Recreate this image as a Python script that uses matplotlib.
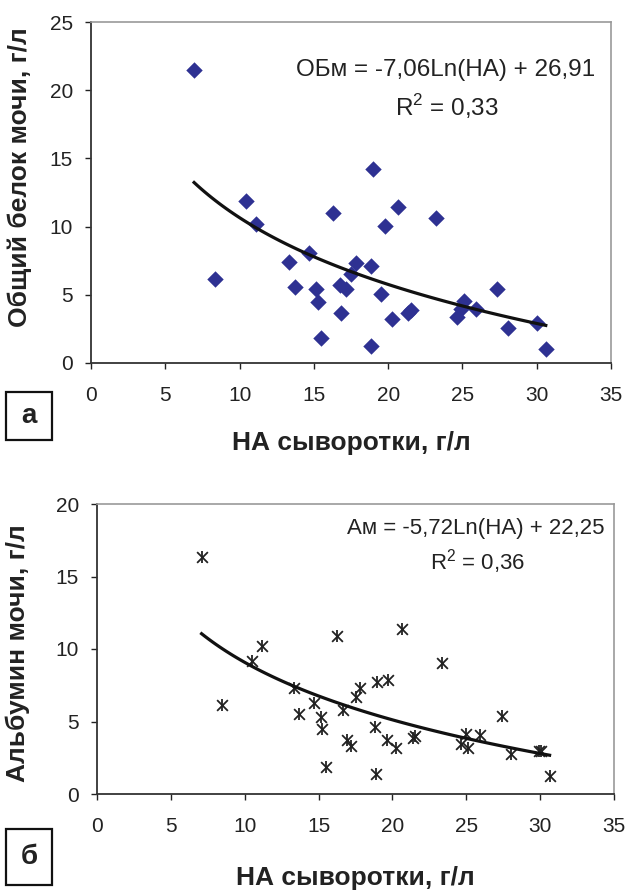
import numpy as np
import matplotlib
matplotlib.use("Agg")
import matplotlib.pyplot as plt
from matplotlib.patches import Rectangle

plt.rcParams["font.family"] = ["Liberation Sans", "DejaVu Sans"]

# panel a: total urine protein vs serum NA
protein_x = [6.94, 8.35, 10.45, 11.08, 13.31, 13.72, 14.70, 15.13, 15.29, 15.45,
             16.27, 16.73, 16.84, 17.18, 17.52, 17.86, 18.82, 18.96, 18.82, 19.55,
             19.82, 20.28, 20.66, 21.37, 21.57, 23.21, 24.65, 24.92, 25.08, 25.90,
             27.33, 28.04, 30.02, 30.61]
protein_y = [21.47, 6.17, 11.88, 10.19, 7.39, 5.56, 8.03, 5.41, 4.46, 1.84,
             10.97, 5.71, 3.67, 5.39, 6.56, 7.30, 7.10, 14.20, 1.22, 5.09,
             10.01, 3.23, 11.41, 3.70, 3.87, 10.63, 3.38, 3.99, 4.53, 3.97,
             5.41, 2.60, 2.94, 1.05]
protein_fit = (-7.06, 26.91)

# panel b: urine albumin vs serum NA
albumin_x = [7.08, 8.49, 10.50, 11.16, 13.36, 13.70, 14.70, 15.14, 15.25, 15.50,
             16.28, 16.64, 16.94, 17.19, 17.56, 17.81, 18.84, 18.93, 18.86, 19.63,
             19.73, 20.27, 20.64, 21.39, 21.53, 23.33, 24.61, 24.95, 25.11, 25.91,
             27.42, 28.06, 29.89, 30.09, 30.64]
albumin_y = [16.35, 6.15, 9.17, 10.21, 7.34, 5.50, 6.31, 5.34, 4.47, 1.86,
             10.87, 5.78, 3.72, 3.30, 6.70, 7.34, 4.59, 7.71, 1.38, 3.72,
             7.84, 3.14, 11.40, 3.83, 3.99, 9.06, 3.42, 4.11, 3.14, 4.06,
             5.39, 2.75, 2.94, 2.94, 1.22]
albumin_fit = (-5.72, 22.25)

W, H = 627, 891
fig = plt.figure(figsize=(W / 100, H / 100), dpi=100)


def px_axes(left, top, right, bottom):
    return fig.add_axes([left / W, 1 - bottom / H, (right - left) / W, (bottom - top) / H])


def style_axes(ax, ymax, ystep):
    ax.set_xlim(0, 35)
    ax.set_ylim(0, ymax)
    ax.set_xticks(np.arange(0, 36, 5))
    ax.set_yticks(np.arange(0, ymax + 1, ystep))
    for side in ("left", "bottom"):
        ax.spines[side].set_color("#333333")
        ax.spines[side].set_linewidth(1.3)
    for side in ("top", "right"):
        ax.spines[side].set_color("#999999")
        ax.spines[side].set_linewidth(1.2)
    ax.tick_params(axis="x", direction="out", length=4.5, width=1, pad=12,
                   labelsize=15, colors="#222222")
    ax.tick_params(axis="y", direction="out", length=4, width=1, pad=9,
                   labelsize=15, colors="#222222")


def trend(ax, xs, coef):
    a, b = coef
    xx = np.linspace(min(xs), max(xs), 100)
    ax.plot(xx, a * np.log(xx) + b, color="#111111", lw=2.3, zorder=3)


def box_label(letter, left, top, right, bottom):
    fig.add_artist(Rectangle((left / W, 1 - bottom / H), (right - left) / W, (bottom - top) / H,
                             transform=fig.transFigure, fill=False, ec="#111111", lw=1.6))
    fig.text((left + right) / 2 / W, 1 - (top + bottom) / 2 / H, letter, ha="center", va="center",
             fontsize=20, fontweight="bold", color="#222222")


# --- panel a
ax1 = px_axes(91, 22, 611, 363)
style_axes(ax1, 25, 5)
ax1.scatter(protein_x, protein_y, marker="D", s=70, color="#2e3192", lw=0, zorder=2)
trend(ax1, protein_x, protein_fit)
ax1.text(0.681, 0.859, "ОБм = -7,06Ln(НА) + 26,91", transform=ax1.transAxes,
         ha="center", va="center", fontsize=17.5, color="#222222")
ax1.text(0.685, 0.751, r"R$^{\mathregular{2}}$ = 0,33", transform=ax1.transAxes,
         ha="center", va="center", fontsize=17.5, color="#222222")
fig.text(351 / W, 1 - 443 / H, "НА сыворотки, г/л", ha="center", va="center",
         fontsize=19, fontweight="bold", color="#222222")
fig.text(20 / W, 1 - 177 / H, "Общий белок мочи, г/л", ha="center", va="center",
         rotation=90, fontsize=19, fontweight="bold", color="#222222")
box_label("а", 6, 392, 52, 440)

# --- panel b
ax2 = px_axes(97, 504, 614, 794)
style_axes(ax2, 20, 5)
ax2.scatter(albumin_x, albumin_y, marker="x", s=60, color="#222222", lw=1.3, zorder=2)
ax2.scatter(albumin_x, albumin_y, marker="|", s=70, color="#222222", lw=1.3, zorder=2)
trend(ax2, albumin_x, albumin_fit)
ax2.text(0.733, 0.917, "Ам = -5,72Ln(НА) + 22,25", transform=ax2.transAxes,
         ha="center", va="center", fontsize=16, color="#222222")
ax2.text(0.737, 0.80, r"R$^{\mathregular{2}}$ = 0,36", transform=ax2.transAxes,
         ha="center", va="center", fontsize=16, color="#222222")
fig.text(355 / W, 1 - 878 / H, "НА сыворотки, г/л", ha="center", va="center",
         fontsize=19, fontweight="bold", color="#222222")
fig.text(18 / W, 1 - 653 / H, "Альбумин мочи, г/л", ha="center", va="center",
         rotation=90, fontsize=19, fontweight="bold", color="#222222")
box_label("б", 6, 829, 52, 885)

fig.savefig("out.png", dpi=100)
